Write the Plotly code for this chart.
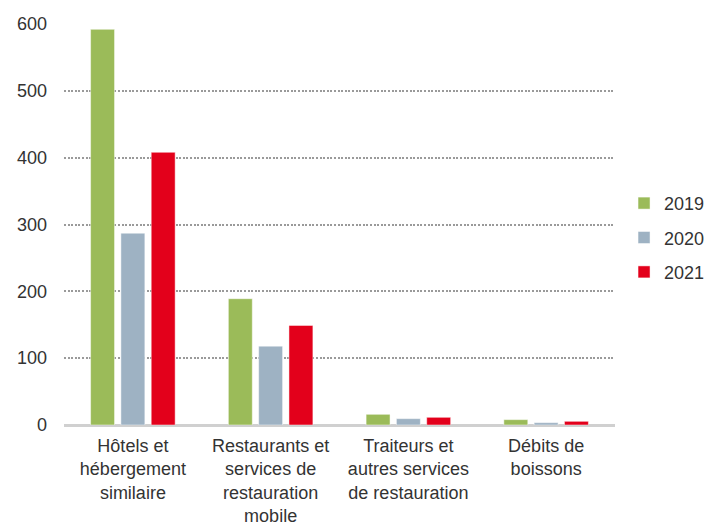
import plotly.graph_objects as go

categories = ["Hôtels et<br>hébergement<br>similaire",
              "Restaurants et<br>services de<br>restauration<br>mobile",
              "Traiteurs et<br>autres services<br>de restauration",
              "Débits de<br>boissons"]
v2019 = [592, 189, 16, 8]
v2020 = [287, 118, 9.5, 3.5]
v2021 = [408, 149, 11.5, 5.5]
series = [("2019", v2019, "#9BBB59"), ("2020", v2020, "#9EB2C3"), ("2021", v2021, "#E3001B")]
yticks = [0, 100, 200, 300, 400, 500, 600]

fig = go.Figure()
for i, (name, vals, col) in enumerate(series):
    fig.add_trace(go.Bar(x=categories, y=vals, name=name, marker_color=col,
                         marker_line=dict(width=0.8, color="rgba(255,255,255,0.6)"),
                         legendgroup=name))

font = "Liberation Sans, Arial, sans-serif"
fig.update_layout(
    width=714, height=524,
    margin=dict(l=64, r=99, t=24, b=99, autoexpand=False),
    plot_bgcolor="white", paper_bgcolor="white",
    barmode="group", bargap=0.34, bargroupgap=0.21,
    font=dict(family=font, size=18, color="#333333"),
    legend=dict(x=0.874, y=0.546, xref="container", yref="container",
                xanchor="left", yanchor="middle",
                font=dict(size=18, color="#333333"), tracegroupgap=8,
                itemwidth=30),
    showlegend=True,
)
fig.update_yaxes(range=[0, 600], tickvals=yticks, showgrid=True, gridcolor="#9a9a9a",
                 griddash="2px,1.6px", gridwidth=2, zeroline=True, zerolinecolor="#d0d0d0",
                 zerolinewidth=2.5, showline=False, ticks="", ticklabelstandoff=16,
                 automargin=False, tickfont=dict(size=18, color="#333333"))
fig.update_xaxes(showline=False, ticks="", tickfont=dict(size=18, color="#333333"),
                 ticklabelstandoff=8, automargin=False)
fig.write_html("out.html", config={"displayModeBar": False},
               post_script="document.body.style.margin='0';")
